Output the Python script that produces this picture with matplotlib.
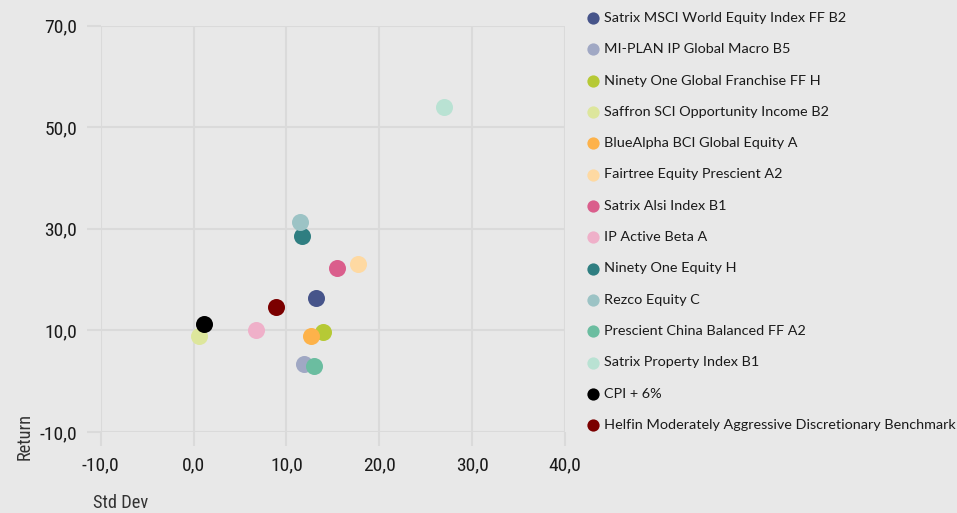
import matplotlib
matplotlib.use("Agg")
import matplotlib.pyplot as plt
from matplotlib.ticker import FuncFormatter

names = [
    "Satrix MSCI World Equity Index FF B2",
    "MI-PLAN IP Global Macro B5",
    "Ninety One Global Franchise FF H",
    "Saffron SCI Opportunity Income B2",
    "BlueAlpha BCI Global Equity A",
    "Fairtree Equity Prescient A2",
    "Satrix Alsi Index B1",
    "IP Active Beta A",
    "Ninety One Equity H",
    "Rezco Equity C",
    "Prescient China Balanced FF A2",
    "Satrix Property Index B1",
    "CPI + 6%",
    "Helfin Moderately Aggressive Discretionary Benchmark",
]
std_dev = [13.2, 11.9, 13.9, 0.6, 12.7, 17.7, 15.4, 6.7, 11.7, 11.5, 13.0, 27.0, 1.1, 8.9]
returns = [16.3, 3.4, 9.7, 8.9, 8.9, 23.0, 22.2, 10.1, 28.5, 31.3, 3.0, 53.9, 11.3, 14.7]
colors = ["#46548a", "#a0a8c4", "#b6c935", "#dde69c", "#fdb24a", "#fed9a2",
          "#da5e8c", "#efb0c9", "#2f7e81", "#9cc3c5", "#6bbda0", "#b9e2d3",
          "#000000", "#7b0000"]
x_ticks = [-10, 0, 10, 20, 30, 40]
y_ticks = [-10, 10, 30, 50, 70]

BG = "#e8e8e8"
GRID = "#dadada"
narrow = ["Roboto Condensed", "Inter Tight", "DejaVu Sans"]
legend_font = ["Lato", "DejaVu Sans"]

fig = plt.figure(figsize=(9.57, 5.13), dpi=100, facecolor=BG)
ax = fig.add_axes([100.7 / 957, 1 - 432 / 513, (565 - 100.7) / 957, (432 - 25.7) / 513])
ax.set_facecolor(BG)

for i in range(len(names)):
    ax.scatter(std_dev[i], returns[i], s=150, color=colors[i], label=names[i],
               zorder=3, linewidths=0)

ax.set_xlim(-10, 40)
ax.set_ylim(-10, 70)
ax.set_xticks(x_ticks)
ax.set_yticks(y_ticks)
fmt = FuncFormatter(lambda v, p: f"{v:.1f}".replace(".", ","))
ax.xaxis.set_major_formatter(fmt)
ax.yaxis.set_major_formatter(fmt)
ax.grid(True, color=GRID, linewidth=1.5, zorder=0)
for s in ax.spines.values():
    s.set_visible(False)
ax.tick_params(axis="both", length=10, width=1.5, color=GRID, labelsize=14,
               labelcolor="#1a1a1a")
ax.tick_params(axis="x", pad=7.5)
ax.tick_params(axis="y", pad=7)
for lab in ax.get_xticklabels() + ax.get_yticklabels():
    lab.set_family(narrow)

fig.text(24.5 / 957, 1 - 436 / 513, "Return", rotation=90, ha="center", va="center",
         fontsize=13.2, family=narrow, color="#333333")
fig.text(121 / 957, 1 - 503 / 513, "Std Dev", ha="center", va="center",
         fontsize=13.2, family=narrow, color="#333333")

leg = fig.legend(loc="upper left", bbox_to_anchor=(580 / 957, 1 - 6 / 513),
                 frameon=False, prop={"family": legend_font, "size": 10.4},
                 labelspacing=1.33, handletextpad=0.25, handlelength=1.0,
                 markerscale=0.72, borderaxespad=0)
for t in leg.get_texts():
    t.set_color("#1a1a1a")

fig.savefig("out.png", dpi=100, facecolor=BG)
